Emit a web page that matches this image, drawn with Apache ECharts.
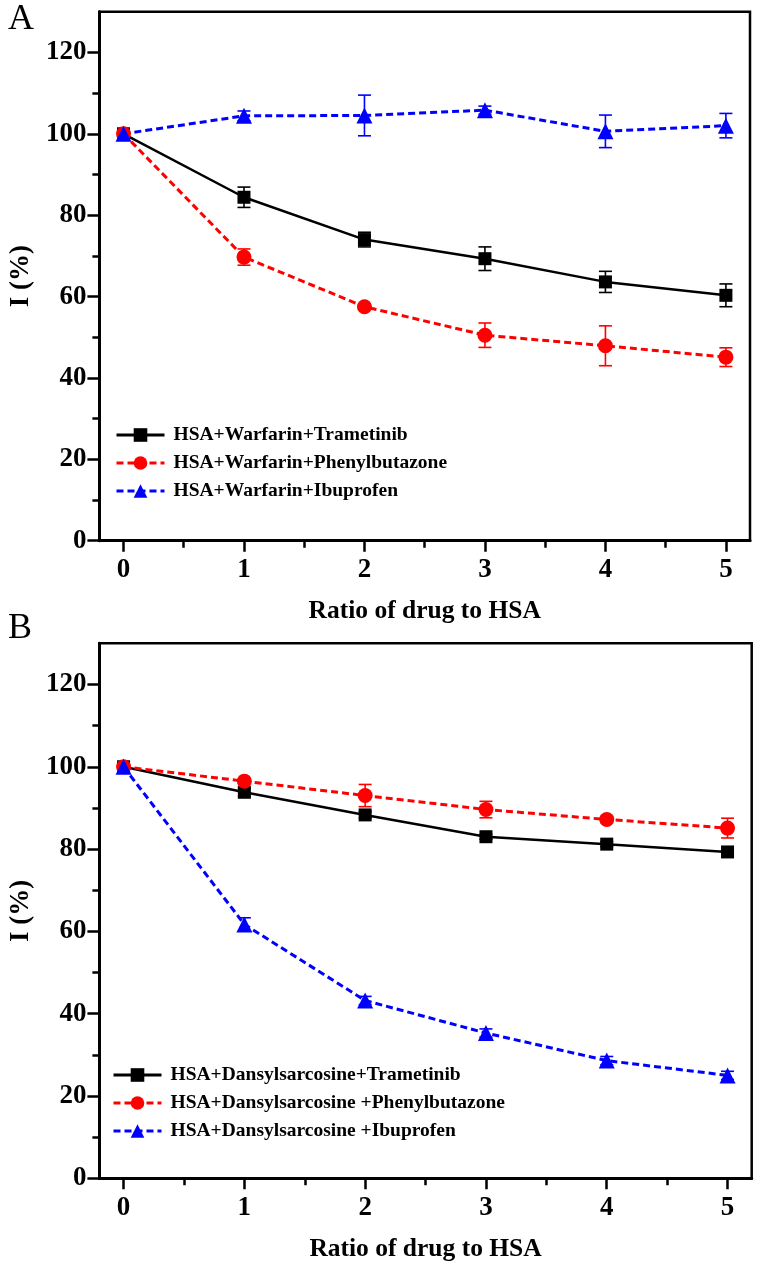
<!DOCTYPE html>
<html><head><meta charset="utf-8">
<script src="https://cdn.jsdelivr.net/npm/echarts@6/dist/echarts.min.js"></script>
<style>html,body{margin:0;padding:0;background:#fff}#c{width:758px;height:1270px}</style>
</head><body><div id="c"></div>
<script>
// ---------- data ----------
const xValues = [0, 1, 2, 3, 4, 5];
const xTickValues = [0, 1, 2, 3, 4, 5];
const xMinorTicks = [0.5, 1.5, 2.5, 3.5, 4.5];
const yTickValues = [0, 20, 40, 60, 80, 100, 120];
const yMinorTicks = [10, 30, 50, 70, 90, 110];
const xTitle = 'Ratio of drug to HSA';
const yTitle = 'I (%)';

// Panel A
const namesA = ['HSA+Warfarin+Trametinib', 'HSA+Warfarin+Phenylbutazone', 'HSA+Warfarin+Ibuprofen'];
const trametinibA    = [100, 84.4, 74.0, 69.3, 63.6, 60.3];
const trametinibAErr = [0.8, 2.5, 1.8, 2.9, 2.6, 2.8];
const phenylA        = [100, 69.7, 57.5, 50.5, 47.9, 45.1];
const phenylAErr     = [0.6, 2.0, 0.6, 3.0, 4.9, 2.3];
const ibuprofenA     = [100, 104.4, 104.5, 105.8, 100.6, 102.0];
const ibuprofenAErr  = [0.6, 1.2, 5.0, 1.0, 4.0, 3.0];

// Panel B
const namesB = ['HSA+Dansylsarcosine+Trametinib', 'HSA+Dansylsarcosine +Phenylbutazone', 'HSA+Dansylsarcosine +Ibuprofen'];
const trametinibB    = [100, 93.8, 88.3, 83.0, 81.2, 79.3];
const trametinibBErr = [0.6, 1.0, 0.8, 0.6, 0.6, 0.6];
const phenylB        = [100, 96.5, 93.0, 89.6, 87.2, 85.1];
const phenylBErr     = [0.6, 0.6, 2.7, 2.0, 0.8, 2.4];
const ibuprofenB     = [100, 61.7, 43.2, 35.3, 28.6, 25.0];
const ibuprofenBErr  = [0.6, 1.6, 1.0, 1.0, 1.0, 1.0];

// ---------- styling ----------
const FONT = "'Liberation Serif','Times New Roman',serif";
const BLACK = '#000000', RED = '#ff0000', BLUE = '#0000ff';

function lineSeries(name, vals, ai, color, symbol, size, dashed) {
  return {
    type: 'line', name: name, xAxisIndex: ai, yAxisIndex: ai,
    data: xValues.map((x, i) => [x, vals[i]]),
    symbol: symbol, symbolSize: size, showSymbol: true,
    lineStyle: { color: color, width: dashed ? 3 : 2.5, type: dashed ? [7, 4] : 'solid' },
    itemStyle: { color: color },
    z: 3, animation: false
  };
}
function errSeries(vals, err, ai, color) {
  return {
    type: 'custom', name: 'err', xAxisIndex: ai, yAxisIndex: ai, silent: true,
    data: xValues.map((x, i) => [x, vals[i] - err[i], vals[i] + err[i]]),
    encode: { x: 0, y: [1, 2] },
    renderItem: function (params, api) {
      const x = api.value(0);
      const lo = api.coord([x, api.value(1)]);
      const hi = api.coord([x, api.value(2)]);
      const w = 6.5;
      const st = { stroke: color, lineWidth: 1.6 };
      return { type: 'group', children: [
        { type: 'line', shape: { x1: lo[0], y1: lo[1], x2: hi[0], y2: hi[1] }, style: st },
        { type: 'line', shape: { x1: lo[0] - w, y1: lo[1], x2: lo[0] + w, y2: lo[1] }, style: st },
        { type: 'line', shape: { x1: hi[0] - w, y1: hi[1], x2: hi[0] + w, y2: hi[1] }, style: st }
      ]};
    },
    z: 2, animation: false
  };
}

const labelStyle = { fontFamily: FONT, fontWeight: 'bold', fontSize: 27, color: BLACK };

function xAxes(gi) {
  return [
    { type: 'value', gridIndex: gi, min: -0.2, max: 5.2, position: 'bottom',
      axisLine: { show: true, onZero: false, lineStyle: { color: BLACK, width: 3 } },
      axisTick: { show: true, customValues: xTickValues, length: 11, lineStyle: { color: BLACK, width: 2.5 } },
      axisLabel: Object.assign({ show: true, customValues: xTickValues, margin: 16 }, labelStyle),
      splitLine: { show: false },
      name: xTitle, nameLocation: 'middle', nameGap: 58,
      nameTextStyle: { fontFamily: FONT, fontWeight: 'bold', fontSize: 25.5, color: BLACK } },
    { type: 'value', gridIndex: gi, min: -0.2, max: 5.2, position: 'bottom',
      axisLine: { show: false, onZero: false },
      axisTick: { show: true, customValues: xMinorTicks, length: 7, lineStyle: { color: BLACK, width: 2.5 } },
      axisLabel: { show: false }, splitLine: { show: false } }
  ];
}
function yAxes(gi) {
  return [
    { type: 'value', gridIndex: gi, min: 0, max: 130, position: 'left',
      axisLine: { show: true, onZero: false, lineStyle: { color: BLACK, width: 3 } },
      axisTick: { show: true, customValues: yTickValues, length: 12, lineStyle: { color: BLACK, width: 2.5 } },
      axisLabel: Object.assign({ show: true, customValues: yTickValues, margin: 13 }, labelStyle),
      splitLine: { show: false },
      name: yTitle, nameLocation: 'middle', nameGap: 60, nameRotate: 90,
      nameTextStyle: { fontFamily: FONT, fontWeight: 'bold', fontSize: 27, color: BLACK } },
    { type: 'value', gridIndex: gi, min: 0, max: 130, position: 'left',
      axisLine: { show: false, onZero: false },
      axisTick: { show: true, customValues: yMinorTicks, length: 7, lineStyle: { color: BLACK, width: 2.5 } },
      axisLabel: { show: false }, splitLine: { show: false } }
  ];
}
function legend(names, left, top) {
  return {
    orient: 'vertical', left: left, top: top, padding: 0,
    itemWidth: 48, itemHeight: 17, itemGap: 8,
    lineStyle: { width: 3 },
    data: names,
    textStyle: { fontFamily: FONT, fontWeight: 'bold', fontSize: 19.5, color: BLACK, lineHeight: 20, padding: [0, 0, 0, 4] }
  };
}

const option = {
  animation: false,
  backgroundColor: '#ffffff',
  title: [
    { text: 'A', left: 8, top: 2, padding: 0, textStyle: { fontFamily: FONT, fontWeight: 'normal', fontSize: 36, color: BLACK } },
    { text: 'B', left: 8, top: 611, padding: 0, textStyle: { fontFamily: FONT, fontWeight: 'normal', fontSize: 36, color: BLACK } }
  ],
  grid: [
    { left: 91.5, right: 8, top: 11.7, bottom: 729.3, show: true, borderColor: BLACK, borderWidth: 2.5, backgroundColor: 'transparent' },
    { left: 89.3, right: 6.3, top: 643.3, bottom: 91.7, show: true, borderColor: BLACK, borderWidth: 2.5, backgroundColor: 'transparent' }
  ],
  xAxis: xAxes(0).concat(xAxes(1)),
  yAxis: yAxes(0).concat(yAxes(1)),
  legend: [ legend(namesA, 115, 425), legend(namesB, 112, 1065) ],
  series: [
    errSeries(trametinibA, trametinibAErr, 0, BLACK),
    errSeries(phenylA, phenylAErr, 0, RED),
    errSeries(ibuprofenA, ibuprofenAErr, 0, BLUE),
    lineSeries(namesA[0], trametinibA, 0, BLACK, 'rect', 13, false),
    lineSeries(namesA[1], phenylA, 0, RED, 'circle', 15, true),
    lineSeries(namesA[2], ibuprofenA, 0, BLUE, 'triangle', 16, true),
    errSeries(trametinibB, trametinibBErr, 2, BLACK),
    errSeries(phenylB, phenylBErr, 2, RED),
    errSeries(ibuprofenB, ibuprofenBErr, 2, BLUE),
    lineSeries(namesB[0], trametinibB, 2, BLACK, 'rect', 13, false),
    lineSeries(namesB[1], phenylB, 2, RED, 'circle', 15, true),
    lineSeries(namesB[2], ibuprofenB, 2, BLUE, 'triangle', 16, true)
  ]
};

const chart = echarts.init(document.getElementById('c'), null, { renderer: 'canvas' });
chart.setOption(option);
</script>
</body></html>
